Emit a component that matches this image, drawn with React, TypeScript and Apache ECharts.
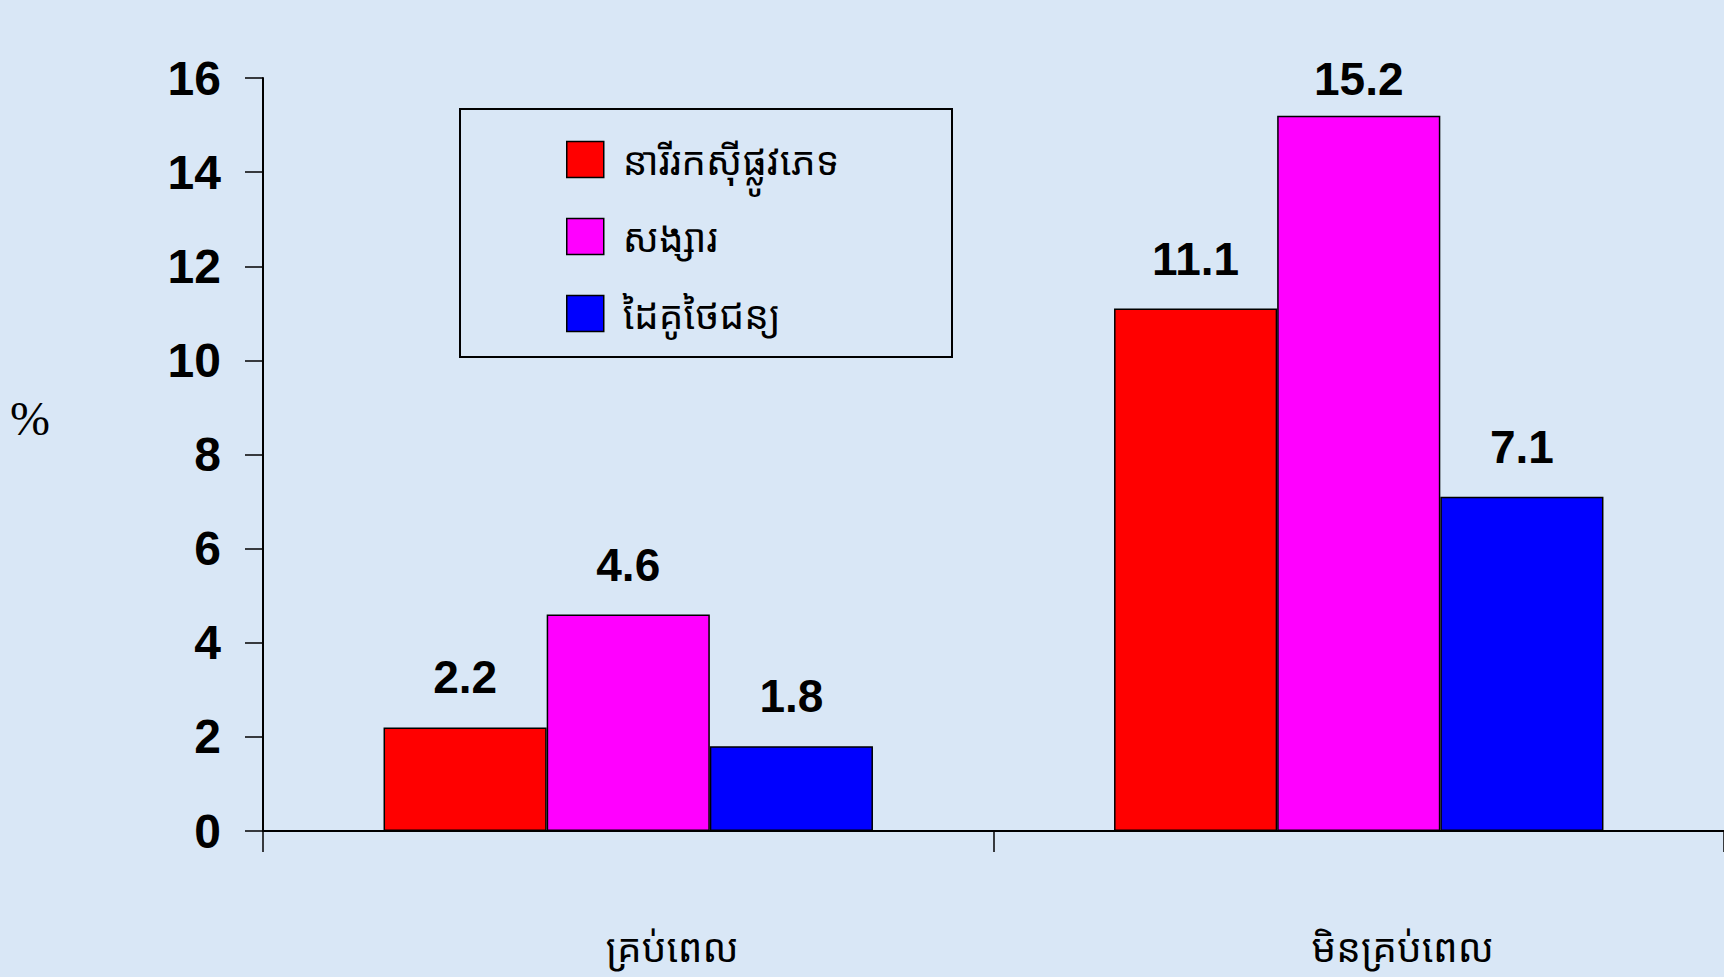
import React, { useEffect, useRef } from "react";
import * as echarts from "echarts";

const categories = ["គ្រប់ពេល", "មិនគ្រប់ពេល"];
const seriesNames = ["នារីរកស៊ីផ្លូវភេទ", "សង្សារ", "ដៃគូថៃជន្យ"];
const sexWorkerValues = [2.2, 11.1];
const sweetheartValues = [4.6, 15.2];
const partnerValues = [1.8, 7.1];
const seriesColors = ["#ff0000", "#ff00ff", "#0000ff"];
const yTicks = [0, 2, 4, 6, 8, 10, 12, 14, 16];

const KHMER = "'Noto Sans Khmer', 'Khmer OS', 'Khmer OS System', DaunPenh, 'Noto Sans', 'DejaVu Sans', sans-serif";
const ARIAL = "'Liberation Sans', Arial, Helvetica, sans-serif";

export default function App() {
  const ref = useRef<HTMLDivElement>(null);
  useEffect(() => {
    if (!ref.current) return;
    const chart = echarts.init(ref.current, undefined, { renderer: "svg" });
    const allValues = [sexWorkerValues, sweetheartValues, partnerValues];
    const maxVal = Math.max(...allValues.flat());
    chart.setOption({
      animation: false,
      backgroundColor: "#d9e7f6",
      grid: { left: 263, top: 78, width: 1464, bottom: 146, containLabel: false },
      legend: {
        orient: "vertical",
        left: 566,
        top: 137,
        padding: 0,
        itemWidth: 37,
        itemHeight: 36,
        itemGap: 32,
        icon: "rect",
        itemStyle: { borderColor: "#000", borderWidth: 1.5 },
        textStyle: { fontFamily: KHMER, fontSize: 39, lineHeight: 41, color: "#000", padding: [4, 0, 0, 14] },
        data: seriesNames,
      },
      xAxis: {
        type: "category",
        data: categories,
        axisLine: { lineStyle: { color: "#000", width: 2 } },
        axisTick: { show: true, length: 21, lineStyle: { color: "#000", width: 1.5 } },
        axisLabel: {
          fontFamily: KHMER,
          fontSize: 39,
          color: "#000",
          margin: 92,
          lineHeight: 46,
          padding: [0, 0, 0, 88],
        },
      },
      yAxis: {
        type: "value",
        min: yTicks[0],
        max: yTicks[yTicks.length - 1],
        interval: yTicks[1] - yTicks[0],
        splitLine: { show: false },
        axisLine: { show: true, lineStyle: { color: "#000", width: 2 } },
        axisTick: { show: true, inside: false, length: 18, lineStyle: { color: "#000", width: 1.5 } },
        axisLabel: { fontFamily: ARIAL, fontWeight: "bold", fontSize: 48, color: "#000", margin: 42 },
      },
      graphic: [
        {
          type: "rect",
          shape: { x: 460, y: 109, width: 492, height: 248 },
          style: { fill: "none", stroke: "#000", lineWidth: 2 },
          z: 10,
        },
        {
          type: "text",
          x: 30,
          y: 418,
          style: {
            text: "%",
            font: "48px 'Liberation Serif', 'Times New Roman', serif",
            fill: "#000",
            textAlign: "center",
            textVerticalAlign: "middle",
          },
        },
      ],
      series: allValues.map((vals, i) => ({
        type: "bar",
        name: seriesNames[i],
        barGap: "0%",
        barCategoryGap: "33%",
        itemStyle: { color: seriesColors[i], borderColor: "#000", borderWidth: 1.5 },
        label: {
          show: true,
          position: "top",
          distance: 27,
          fontFamily: ARIAL,
          fontWeight: "bold",
          fontSize: 46,
          color: "#000",
        },
        data: vals.map((v) => (v === maxVal ? { value: v, label: { distance: 14 } } : v)),
      })),
    });
    return () => chart.dispose();
  }, []);
  return <div ref={ref} style={{ width: 1724, height: 977, position: "absolute", left: 0, top: 0 }} />;
}
